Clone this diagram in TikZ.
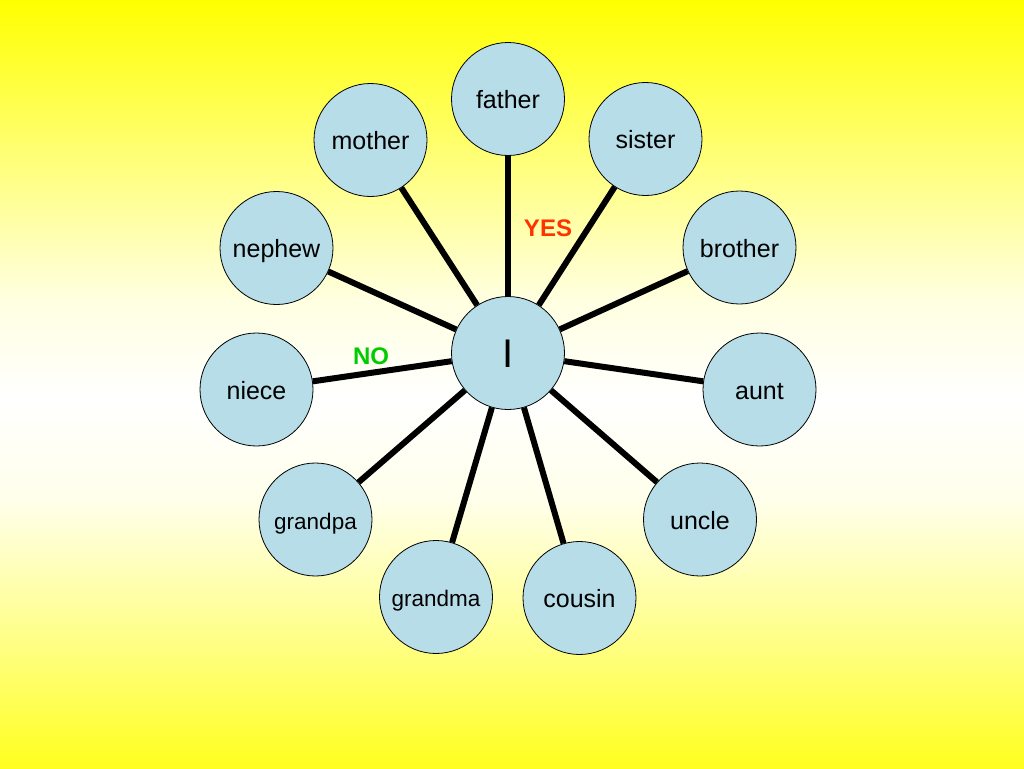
\documentclass[tikz,border=0pt]{standalone}
\usepackage{fontspec}
\setmainfont{Liberation Sans}
\definecolor{circfill}{HTML}{B7DDE8}
\definecolor{yescol}{HTML}{FF3300}
\definecolor{nocol}{HTML}{00CC00}
\definecolor{bgyellow}{HTML}{FFFF00}
\colorlet{bgA}{bgyellow!88!white}
\colorlet{bgB}{bgyellow!50!white}
\colorlet{bgC}{bgyellow!8!white}
\colorlet{bgD}{bgyellow!12!white}
\colorlet{bgE}{bgyellow!55!white}
\pgfdeclareverticalshading{bgshade}{100bp}{%
  color(0bp)=(bgA); color(25bp)=(bgA); color(32.7bp)=(bgB);
  color(42.4bp)=(bgC); color(49bp)=(white); color(55.5bp)=(bgD);
  color(65.2bp)=(bgE); color(75bp)=(bgyellow); color(100bp)=(bgyellow)}
\begin{document}
\begin{tikzpicture}[x=1pt,y=-1pt,
  member/.style={circle,draw=black,line width=0.8pt,fill=circfill,minimum size=113pt,inner sep=0pt,
    text height=19pt,text depth=0pt,font=\fontsize{25}{28}\selectfont},
  smallmember/.style={member,font=\fontsize{22.5}{26}\selectfont},
  spoke/.style={line width=6pt,black},
  answer/.style={font=\fontsize{24}{28}\bfseries\selectfont}]
\useasboundingbox (0,0) rectangle (1024,768);
\shade[shading=bgshade] (0,0) rectangle (1024,768);

\node[member,font=\fontsize{40}{44}\selectfont,text height=28.6pt] (I) at (508,353) {I};
\node[member] (father) at (508,99) {father};
\node[member] (mother) at (370.5,140) {mother};
\node[member] (sister) at (645.5,139) {sister};
\node[member] (nephew) at (276.5,248) {nephew};
\node[member] (brother) at (739.5,247.5) {brother};
\node[member] (niece) at (256.5,389.5) {niece};
\node[member] (aunt) at (759.5,389.5) {aunt};
\node[smallmember] (grandpa) at (315.5,519.5) {grandpa};
\node[member] (uncle) at (700,519.5) {uncle};
\node[smallmember] (grandma) at (436,597) {grandma};
\node[member] (cousin) at (579.5,598) {cousin};

\foreach \n in {father,mother,sister,nephew,brother,niece,aunt,grandpa,uncle,grandma,cousin}
  \draw[spoke] (I) -- (\n);

\node[answer,text=yescol] (yes) at (548,228) {YES};
\node[answer,text=nocol] (no) at (371,356) {NO};
\end{tikzpicture}
\end{document}
